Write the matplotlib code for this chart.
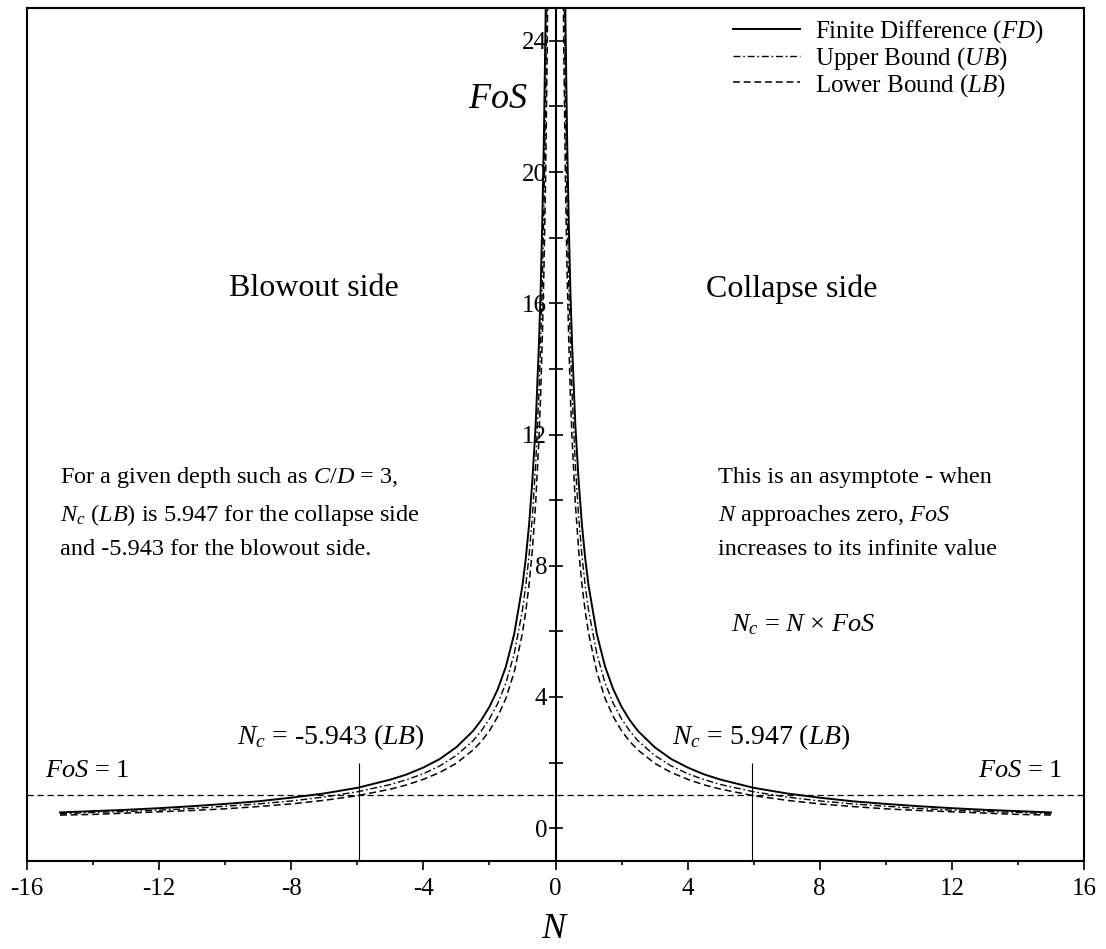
# FoS vs N - porownanie FD / UB / LB
import matplotlib
matplotlib.use("Agg")
import matplotlib.pyplot as plt
from matplotlib.ticker import MultipleLocator

plt.rcParams['font.family'] = ['Liberation Serif', 'DejaVu Serif']
plt.rcParams['mathtext.fontset'] = 'custom'
plt.rcParams['mathtext.rm'] = 'Liberation Serif'
plt.rcParams['mathtext.it'] = 'Liberation Serif:italic'
plt.rcParams['mathtext.bf'] = 'Liberation Serif:bold'
plt.rcParams['axes.unicode_minus'] = False

# dane (|N|, ta sama siatka po obu stronach)
N_coll = [15, 14, 13, 12, 11, 10, 9, 8, 7, 6, 5, 4.5, 4, 3.5, 3, 2.5, 2.25, 2, 1.75, 1.5, 1.25,
          1, 0.9, 0.8, 0.7, 0.6, 0.5, 0.45, 0.4, 0.35, 0.3, 0.25, 0.2]
N_blow = [-n for n in N_coll]

FD = [0.48, 0.52, 0.56, 0.61, 0.67, 0.74, 0.82, 0.93, 1.06, 1.23, 1.48, 1.64, 1.85, 2.11, 2.47, 2.96, 3.29,
      3.70, 4.23, 4.93, 5.92, 7.40, 8.22, 9.25, 10.6, 12.3, 14.8, 16.4, 18.5, 21.1, 24.7, 29.6, 37.0]
UB = [0.44, 0.48, 0.51, 0.55, 0.60, 0.67, 0.74, 0.83, 0.95, 1.11, 1.33, 1.48, 1.66, 1.90, 2.22, 2.66, 2.96,
      3.33, 3.80, 4.43, 5.32, 6.65, 7.39, 8.31, 9.50, 11.1, 13.3, 14.8, 16.6, 19.0, 22.2, 26.6, 33.3]
LB = [0.40, 0.42, 0.46, 0.50, 0.54, 0.59, 0.66, 0.74, 0.85, 0.99, 1.19, 1.32, 1.49, 1.70, 1.98, 2.38, 2.64,
      2.97, 3.40, 3.96, 4.76, 5.95, 6.61, 7.43, 8.49, 9.91, 11.9, 13.2, 14.9, 17.0, 19.8, 23.8, 29.7]

Nc_LB = [-5.943, 5.947]
labels = ['Finite Difference ($FD$)', 'Upper Bound ($UB$)', 'Lower Bound ($LB$)']

fig = plt.figure(figsize=(11.06, 9.49), dpi=100)
ax = fig.add_axes([27/1106, 88/949, 1057/1106, 853/949])

st_fd = dict(color='k', lw=1.4, ls='-')
st_ub = dict(color='k', lw=1.0, dashes=(5, 2, 1.2, 2))
st_lb = dict(color='k', lw=1.1, dashes=(4.5, 2.5))

for i, (vals, st) in enumerate([(FD, st_fd), (UB, st_ub), (LB, st_lb)]):
    ax.plot(N_blow, vals, label=labels[i], **st)
    ax.plot(N_coll, vals, **st)

# FoS = 1 i pionowe linie N_c
ax.axhline(1, color='k', lw=0.9, dashes=(5, 3))
ax.vlines(Nc_LB, -1, 2.0, color='k', lw=0.8)

ax.set_xlim(-16, 16)
ax.set_ylim(-1, 25)

# os y w zerze, ramka dookola
ax.spines['left'].set_position(('data', 0))
for s in ax.spines.values():
    s.set_linewidth(1.5)
ax.plot([0, 0], [0, 1], transform=ax.transAxes, color='k', lw=1.5, clip_on=False)

ax.xaxis.set_major_locator(MultipleLocator(4))
ax.xaxis.set_minor_locator(MultipleLocator(2))
ax.yaxis.set_major_locator(MultipleLocator(4))
ax.yaxis.set_minor_locator(MultipleLocator(2))
ax.tick_params(axis='x', which='major', direction='out', length=6.5, width=1.2, labelsize=18, pad=6)
ax.tick_params(axis='x', which='minor', direction='out', length=3, width=1.2)
ax.tick_params(axis='y', which='both', direction='inout', length=10, width=1.2)
ax.tick_params(axis='y', which='major', labelsize=18, pad=1)
ax.tick_params(top=False, right=False)

ax.set_xlabel('$N$', fontsize=26, labelpad=9)
ax.text(-1.74, 22.2, '$FoS$', fontsize=26, ha='center', va='center')

ax.text(-7.31, 16.44, 'Blowout side', fontsize=23, ha='center', va='center')
ax.text(7.16, 16.44, 'Collapse side', fontsize=23, ha='center', va='center')

left_lines = ['For a given depth such as $C/D$ = 3,',
              '$N_c$ ($LB$) is 5.947 for the collapse side',
              'and -5.943 for the blowout side.']
right_lines = ['This is an asymptote - when',
               '$N$ approaches zero, $FoS$',
               'increases to its infinite value']
line_y = [10.70, 9.54, 8.48]
for t, yy in zip(left_lines, line_y):
    ax.text(-15.0, yy, t, fontsize=17.5, ha='left', va='center')
for t, yy in zip(right_lines, line_y):
    ax.text(4.92, yy, t, fontsize=17.5, ha='left', va='center')

ax.text(7.49, 6.2, r'$N_c$ = $N$ $\times$ $FoS$', fontsize=19, ha='center', va='center')
ax.text(-9.64, 2.77, '$N_c$ = -5.943 ($LB$)', fontsize=20, ha='left', va='center')
ax.text(3.53, 2.77, '$N_c$ = 5.947 ($LB$)', fontsize=20, ha='left', va='center')
ax.text(-15.46, 1.73, '$FoS$ = 1', fontsize=19, ha='left', va='center')
ax.text(15.33, 1.73, '$FoS$ = 1', fontsize=19, ha='right', va='center')

ax.legend(loc='upper left', bbox_to_anchor=(733/1106, 1 - 18/949), bbox_transform=fig.transFigure,
          frameon=False, fontsize=18, handlelength=2.7, handletextpad=0.6,
          labelspacing=0.0, borderpad=0, borderaxespad=0)

fig.savefig('out.png', dpi=100)
